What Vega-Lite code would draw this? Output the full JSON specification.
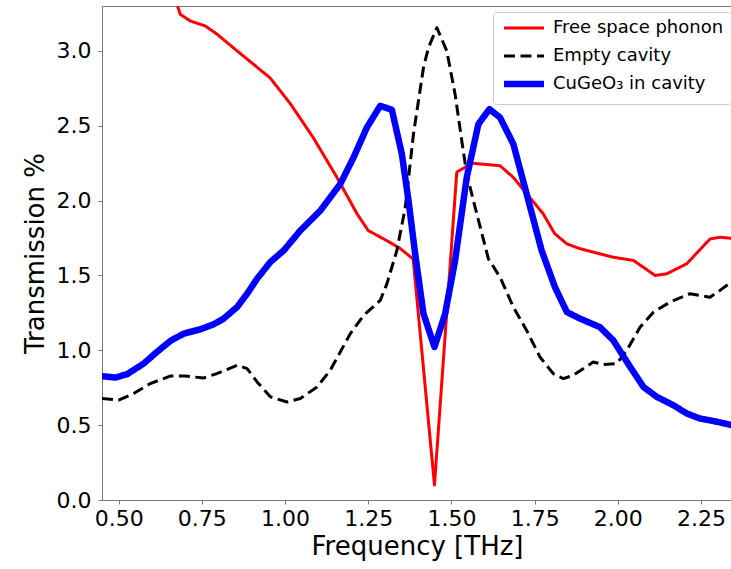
{
  "$schema": "https://vega.github.io/schema/vega-lite/v6.json",
  "width": 630,
  "height": 494,
  "autosize": {"type": "none"},
  "padding": {"left": 102, "top": 6, "right": 0, "bottom": 69},
  "background": "white",
  "config": {
    "font": "DejaVu Sans",
    "view": {"stroke": "#777", "strokeWidth": 1},
    "axis": {
      "grid": false,
      "domainColor": "#777",
      "tickColor": "#777",
      "tickSize": 4,
      "labelFont": "DejaVu Sans",
      "labelFontSize": 22,
      "labelColor": "black",
      "titleFont": "DejaVu Sans",
      "titleFontSize": 26,
      "titleFontWeight": "normal",
      "titleColor": "black"
    }
  },
  "data": {
    "values": [
      {"series": "Free space phonon", "f": 0.66, "t": 3.42},
      {"series": "Free space phonon", "f": 0.685, "t": 3.245},
      {"series": "Free space phonon", "f": 0.715, "t": 3.2},
      {"series": "Free space phonon", "f": 0.76, "t": 3.167},
      {"series": "Free space phonon", "f": 0.795, "t": 3.113},
      {"series": "Free space phonon", "f": 0.856, "t": 3.0},
      {"series": "Free space phonon", "f": 0.955, "t": 2.82},
      {"series": "Free space phonon", "f": 1.016, "t": 2.647},
      {"series": "Free space phonon", "f": 1.085, "t": 2.42},
      {"series": "Free space phonon", "f": 1.156, "t": 2.155},
      {"series": "Free space phonon", "f": 1.216, "t": 1.913},
      {"series": "Free space phonon", "f": 1.25, "t": 1.8},
      {"series": "Free space phonon", "f": 1.316, "t": 1.72},
      {"series": "Free space phonon", "f": 1.346, "t": 1.68},
      {"series": "Free space phonon", "f": 1.385, "t": 1.61},
      {"series": "Free space phonon", "f": 1.449, "t": 0.1},
      {"series": "Free space phonon", "f": 1.516, "t": 2.19},
      {"series": "Free space phonon", "f": 1.561, "t": 2.25},
      {"series": "Free space phonon", "f": 1.646, "t": 2.233},
      {"series": "Free space phonon", "f": 1.686, "t": 2.155},
      {"series": "Free space phonon", "f": 1.776, "t": 1.911},
      {"series": "Free space phonon", "f": 1.81, "t": 1.78},
      {"series": "Free space phonon", "f": 1.847, "t": 1.711},
      {"series": "Free space phonon", "f": 1.887, "t": 1.678},
      {"series": "Free space phonon", "f": 1.986, "t": 1.622},
      {"series": "Free space phonon", "f": 2.047, "t": 1.6},
      {"series": "Free space phonon", "f": 2.112, "t": 1.5},
      {"series": "Free space phonon", "f": 2.147, "t": 1.511},
      {"series": "Free space phonon", "f": 2.207, "t": 1.578},
      {"series": "Free space phonon", "f": 2.277, "t": 1.744},
      {"series": "Free space phonon", "f": 2.307, "t": 1.755},
      {"series": "Free space phonon", "f": 2.343, "t": 1.748},

      {"series": "Empty cavity", "f": 0.45, "t": 0.678},
      {"series": "Empty cavity", "f": 0.5, "t": 0.667},
      {"series": "Empty cavity", "f": 0.545, "t": 0.711},
      {"series": "Empty cavity", "f": 0.595, "t": 0.778},
      {"series": "Empty cavity", "f": 0.655, "t": 0.828},
      {"series": "Empty cavity", "f": 0.7, "t": 0.828},
      {"series": "Empty cavity", "f": 0.755, "t": 0.815},
      {"series": "Empty cavity", "f": 0.795, "t": 0.844},
      {"series": "Empty cavity", "f": 0.856, "t": 0.9},
      {"series": "Empty cavity", "f": 0.886, "t": 0.878},
      {"series": "Empty cavity", "f": 0.916, "t": 0.789},
      {"series": "Empty cavity", "f": 0.956, "t": 0.689},
      {"series": "Empty cavity", "f": 1.006, "t": 0.655},
      {"series": "Empty cavity", "f": 1.046, "t": 0.678},
      {"series": "Empty cavity", "f": 1.096, "t": 0.755},
      {"series": "Empty cavity", "f": 1.136, "t": 0.867},
      {"series": "Empty cavity", "f": 1.196, "t": 1.111},
      {"series": "Empty cavity", "f": 1.236, "t": 1.233},
      {"series": "Empty cavity", "f": 1.286, "t": 1.333},
      {"series": "Empty cavity", "f": 1.306, "t": 1.444},
      {"series": "Empty cavity", "f": 1.336, "t": 1.667},
      {"series": "Empty cavity", "f": 1.361, "t": 1.95},
      {"series": "Empty cavity", "f": 1.386, "t": 2.447},
      {"series": "Empty cavity", "f": 1.416, "t": 2.889},
      {"series": "Empty cavity", "f": 1.431, "t": 3.022},
      {"series": "Empty cavity", "f": 1.456, "t": 3.155},
      {"series": "Empty cavity", "f": 1.486, "t": 3.0},
      {"series": "Empty cavity", "f": 1.511, "t": 2.711},
      {"series": "Empty cavity", "f": 1.531, "t": 2.4},
      {"series": "Empty cavity", "f": 1.546, "t": 2.178},
      {"series": "Empty cavity", "f": 1.566, "t": 2.0},
      {"series": "Empty cavity", "f": 1.611, "t": 1.611},
      {"series": "Empty cavity", "f": 1.646, "t": 1.489},
      {"series": "Empty cavity", "f": 1.686, "t": 1.289},
      {"series": "Empty cavity", "f": 1.726, "t": 1.133},
      {"series": "Empty cavity", "f": 1.766, "t": 0.955},
      {"series": "Empty cavity", "f": 1.806, "t": 0.844},
      {"series": "Empty cavity", "f": 1.836, "t": 0.811},
      {"series": "Empty cavity", "f": 1.866, "t": 0.833},
      {"series": "Empty cavity", "f": 1.926, "t": 0.922},
      {"series": "Empty cavity", "f": 1.956, "t": 0.905},
      {"series": "Empty cavity", "f": 1.997, "t": 0.911},
      {"series": "Empty cavity", "f": 2.027, "t": 1.0},
      {"series": "Empty cavity", "f": 2.067, "t": 1.155},
      {"series": "Empty cavity", "f": 2.107, "t": 1.255},
      {"series": "Empty cavity", "f": 2.157, "t": 1.322},
      {"series": "Empty cavity", "f": 2.217, "t": 1.378},
      {"series": "Empty cavity", "f": 2.277, "t": 1.355},
      {"series": "Empty cavity", "f": 2.307, "t": 1.4},
      {"series": "Empty cavity", "f": 2.343, "t": 1.46},

      {"series": "CuGeO₃ in cavity", "f": 0.45, "t": 0.827},
      {"series": "CuGeO₃ in cavity", "f": 0.49, "t": 0.818},
      {"series": "CuGeO₃ in cavity", "f": 0.525, "t": 0.84},
      {"series": "CuGeO₃ in cavity", "f": 0.575, "t": 0.911},
      {"series": "CuGeO₃ in cavity", "f": 0.615, "t": 0.989},
      {"series": "CuGeO₃ in cavity", "f": 0.655, "t": 1.062},
      {"series": "CuGeO₃ in cavity", "f": 0.695, "t": 1.111},
      {"series": "CuGeO₃ in cavity", "f": 0.745, "t": 1.14},
      {"series": "CuGeO₃ in cavity", "f": 0.785, "t": 1.173},
      {"series": "CuGeO₃ in cavity", "f": 0.815, "t": 1.211},
      {"series": "CuGeO₃ in cavity", "f": 0.856, "t": 1.289},
      {"series": "CuGeO₃ in cavity", "f": 0.886, "t": 1.378},
      {"series": "CuGeO₃ in cavity", "f": 0.916, "t": 1.478},
      {"series": "CuGeO₃ in cavity", "f": 0.956, "t": 1.59},
      {"series": "CuGeO₃ in cavity", "f": 0.996, "t": 1.667},
      {"series": "CuGeO₃ in cavity", "f": 1.046, "t": 1.8},
      {"series": "CuGeO₃ in cavity", "f": 1.106, "t": 1.933},
      {"series": "CuGeO₃ in cavity", "f": 1.166, "t": 2.111},
      {"series": "CuGeO₃ in cavity", "f": 1.206, "t": 2.289},
      {"series": "CuGeO₃ in cavity", "f": 1.246, "t": 2.489},
      {"series": "CuGeO₃ in cavity", "f": 1.286, "t": 2.633},
      {"series": "CuGeO₃ in cavity", "f": 1.321, "t": 2.607},
      {"series": "CuGeO₃ in cavity", "f": 1.351, "t": 2.311},
      {"series": "CuGeO₃ in cavity", "f": 1.371, "t": 2.0},
      {"series": "CuGeO₃ in cavity", "f": 1.391, "t": 1.644},
      {"series": "CuGeO₃ in cavity", "f": 1.416, "t": 1.244},
      {"series": "CuGeO₃ in cavity", "f": 1.449, "t": 1.022},
      {"series": "CuGeO₃ in cavity", "f": 1.481, "t": 1.244},
      {"series": "CuGeO₃ in cavity", "f": 1.511, "t": 1.6},
      {"series": "CuGeO₃ in cavity", "f": 1.546, "t": 2.155},
      {"series": "CuGeO₃ in cavity", "f": 1.581, "t": 2.511},
      {"series": "CuGeO₃ in cavity", "f": 1.614, "t": 2.611},
      {"series": "CuGeO₃ in cavity", "f": 1.646, "t": 2.555},
      {"series": "CuGeO₃ in cavity", "f": 1.686, "t": 2.378},
      {"series": "CuGeO₃ in cavity", "f": 1.726, "t": 2.044},
      {"series": "CuGeO₃ in cavity", "f": 1.771, "t": 1.667},
      {"series": "CuGeO₃ in cavity", "f": 1.811, "t": 1.422},
      {"series": "CuGeO₃ in cavity", "f": 1.847, "t": 1.255},
      {"series": "CuGeO₃ in cavity", "f": 1.887, "t": 1.211},
      {"series": "CuGeO₃ in cavity", "f": 1.946, "t": 1.155},
      {"series": "CuGeO₃ in cavity", "f": 1.986, "t": 1.067},
      {"series": "CuGeO₃ in cavity", "f": 2.037, "t": 0.889},
      {"series": "CuGeO₃ in cavity", "f": 2.077, "t": 0.755},
      {"series": "CuGeO₃ in cavity", "f": 2.117, "t": 0.689},
      {"series": "CuGeO₃ in cavity", "f": 2.167, "t": 0.633},
      {"series": "CuGeO₃ in cavity", "f": 2.207, "t": 0.578},
      {"series": "CuGeO₃ in cavity", "f": 2.247, "t": 0.544},
      {"series": "CuGeO₃ in cavity", "f": 2.287, "t": 0.528},
      {"series": "CuGeO₃ in cavity", "f": 2.343, "t": 0.5}
    ]
  },
  "encoding": {
    "x": {
      "field": "f", "type": "quantitative",
      "scale": {"domain": [0.45, 2.343], "nice": false, "zero": false},
      "axis": {"title": "Frequency [THz]", "values": [0.5, 0.75, 1.0, 1.25, 1.5, 1.75, 2.0, 2.25], "format": ".2f", "labelPadding": 4, "titlePadding": 4, "labelFlush": false}
    },
    "y": {
      "field": "t", "type": "quantitative",
      "scale": {"domain": [0, 3.3], "nice": false, "zero": false},
      "axis": {"title": "Transmission %", "values": [0, 0.5, 1.0, 1.5, 2.0, 2.5, 3.0], "format": ".1f", "labelPadding": 7, "titlePadding": 8, "labelFlush": false}
    },
    "color": {
      "field": "series", "type": "nominal",
      "scale": {"domain": ["Free space phonon", "Empty cavity", "CuGeO₃ in cavity"], "range": ["#ff0000", "#000000", "#0000ff"]},
      "legend": {
        "title": null,
        "orient": "none",
        "legendX": 391,
        "legendY": 6,
        "symbolType": "M-4,0H4",
        "symbolSize": 100,
        "symbolOffset": 15,
        "labelFont": "DejaVu Sans",
        "labelFontSize": 18,
        "labelColor": "black",
        "labelLimit": 400,
        "labelOffset": 20,
        "padding": 7,
        "rowPadding": 2,
        "gridAlign": "all",
        "strokeColor": "#cccccc",
        "fillColor": "white",
        "cornerRadius": 3
      }
    },
    "strokeDash": {
      "field": "series", "type": "nominal",
      "scale": {"domain": ["Free space phonon", "Empty cavity", "CuGeO₃ in cavity"], "range": [[1, 0], [11, 5.5], [1, 0]]},
      "legend": null
    },
    "strokeWidth": {
      "field": "series", "type": "nominal",
      "scale": {"type": "ordinal", "domain": ["Free space phonon", "Empty cavity", "CuGeO₃ in cavity"], "range": [3, 3, 6.5]},
      "legend": null
    }
  },
  "layer": [
    {"transform": [{"filter": "datum.series === 'Free space phonon'"}], "mark": {"type": "line", "clip": true, "strokeJoin": "round"}},
    {"transform": [{"filter": "datum.series === 'Empty cavity'"}], "mark": {"type": "line", "clip": true, "strokeJoin": "round"}},
    {"transform": [{"filter": "datum.series === 'CuGeO₃ in cavity'"}], "mark": {"type": "line", "clip": true, "strokeJoin": "round"}}
  ]
}
